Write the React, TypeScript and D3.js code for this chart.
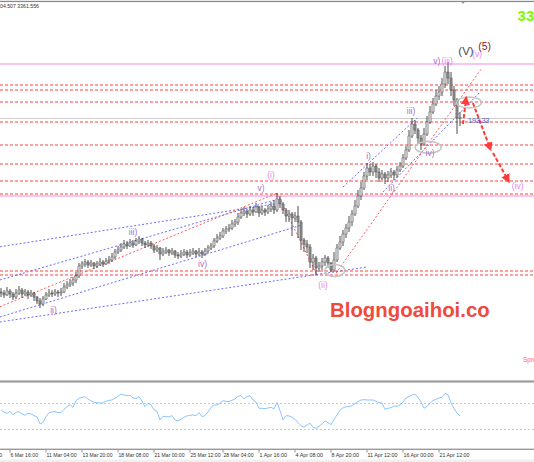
import React from "react";
import * as d3 from "d3";

const W = 534;
const H = 462;

// ---- data (XAUUSD H4-style bars, indexed by bar) ----
const firstOpen = 2920;
const closes = [
  2917.5, 2912.5, 2922.5, 2915, 2907.5, 2917.5, 2925, 2915, 2920, 2912.5,
  2917.5, 2907.5, 2897.5, 2890, 2902.5, 2912.5, 2917.5, 2915, 2920, 2917.5,
  2920, 2932.5, 2937.5, 2942.5, 2950, 2960, 2985, 2990, 2995, 2987.5,
  2992.5, 2985, 2990, 2995, 2990, 2997.5, 3000, 3007.5, 3020, 3025,
  3032.5, 3040, 3035, 3042.5, 3037.5, 3047.5, 3052.5, 3042.5, 3037.5, 3042.5,
  3035, 3025, 3030, 3015, 3020, 3025, 3017.5, 3022.5, 3012.5, 3010,
  3015, 3020, 3012.5, 3017.5, 3022.5, 3015, 3020, 3015, 3022.5, 3030,
  3035, 3047.5, 3055, 3060, 3072.5, 3077.5, 3080, 3090, 3095, 3107.5,
  3117.5, 3122.5, 3115, 3125, 3120, 3132.5, 3117.5, 3125, 3120, 3127.5,
  3135, 3125, 3152.5, 3140, 3125, 3110, 3115, 3105, 3110, 3095,
  3050, 3040, 3032.5, 2995, 3005, 2980, 2985, 2995, 3005, 2992.5,
  2975, 3000, 3030, 3045, 3065, 3080, 3095, 3115, 3135, 3160,
  3180, 3210, 3230, 3220, 3235, 3220, 3205, 3215, 3205, 3212.5,
  3220, 3212.5, 3225, 3235, 3255, 3275, 3310, 3340, 3325, 3305,
  3290, 3315, 3345, 3370, 3390, 3410, 3420, 3440, 3470, 3455,
  3425, 3400, 3355, 3356,
];
const highs = [
  2930, 2925, 2932.5, 2927.5, 2920, 2927.5, 2935, 2930, 2927.5, 2925,
  2925, 2920, 2910, 2905, 2910, 2920, 2927.5, 2925, 2927.5, 2925,
  2930, 2942.5, 2947.5, 2952.5, 2957.5, 2970, 2992.5, 2997.5, 3002.5, 3000,
  3000, 2995, 2997.5, 3005, 3000, 3005, 3010, 3017.5, 3027.5, 3035,
  3042.5, 3050, 3047.5, 3052.5, 3050, 3055, 3060, 3055, 3047.5, 3050,
  3047.5, 3040, 3037.5, 3032.5, 3030, 3032.5, 3027.5, 3030, 3025, 3020,
  3025, 3027.5, 3025, 3027.5, 3030, 3025, 3030, 3025, 3030, 3037.5,
  3042.5, 3055, 3065, 3070, 3080, 3085, 3090, 3100, 3102.5, 3117.5,
  3127.5, 3132.5, 3127.5, 3135, 3132.5, 3142.5, 3135, 3135, 3130, 3137.5,
  3145, 3150, 3167.5, 3160, 3145, 3130, 3125, 3120, 3120, 3135,
  3100, 3055, 3050, 3040, 3015, 3010, 2995, 3005, 3012.5, 3010,
  2995, 3020, 3040, 3060, 3075, 3090, 3110, 3125, 3150, 3175,
  3195, 3220, 3242.5, 3240, 3245, 3240, 3230, 3225, 3220, 3222.5,
  3230, 3225, 3235, 3245, 3265, 3285, 3325, 3355, 3350, 3330,
  3312.5, 3330, 3360, 3385, 3405, 3425, 3435, 3455, 3485, 3495,
  3470, 3435, 3405, 3370,
];
const lows = [
  2907.5, 2905, 2910, 2905, 2900, 2902.5, 2912.5, 2905, 2910, 2902.5,
  2907.5, 2897.5, 2890, 2880, 2885, 2900, 2907.5, 2907.5, 2910, 2907.5,
  2910, 2917.5, 2927.5, 2932.5, 2935, 2942.5, 2955, 2977.5, 2982.5, 2980,
  2982.5, 2977.5, 2980, 2985, 2982.5, 2987.5, 2990, 2995, 3002.5, 3015,
  3020, 3027.5, 3027.5, 3032.5, 3030, 3035, 3040, 3035, 3030, 3032.5,
  3027.5, 3017.5, 3020, 3000, 3010, 3015, 3010, 3012.5, 3005, 3002.5,
  3005, 3010, 3005, 3007.5, 3012.5, 3007.5, 3010, 3005, 3010, 3017.5,
  3025, 3030, 3042.5, 3050, 3055, 3065, 3070, 3075, 3082.5, 3087.5,
  3102.5, 3110, 3105, 3110, 3110, 3117.5, 3107.5, 3112.5, 3110, 3115,
  3120, 3115, 3120, 3130, 3115, 3095, 3095, 3060, 3095, 3055,
  3025, 3020, 3017.5, 2980, 2975, 2962.5, 2970, 2975, 2985, 2980,
  2970, 2970, 2995, 3025, 3035, 3055, 3070, 3085, 3110, 3130,
  3150, 3175, 3200, 3210, 3210, 3205, 3195, 3200, 3190, 3195,
  3205, 3200, 3205, 3220, 3230, 3250, 3270, 3305, 3315, 3290,
  3275, 3285, 3310, 3340, 3365, 3385, 3400, 3410, 3430, 3440,
  3410, 3385, 3315, 3335,
];
const rsi = [
  59, 56, 54, 56.5, 52, 55.5, 56.5, 53, 51, 54,
  53, 50.5, 48.5, 38, 40, 49, 55, 56, 56.5, 55,
  55, 60, 64, 67, 63, 73, 76.5, 78, 79, 75.5,
  72.5, 70.5, 70, 69.5, 69.5, 72, 73.5, 74, 76.5, 79.5,
  83, 81.5, 80.5, 81, 77, 76, 79, 72.5, 64, 69,
  67, 59, 57, 44, 49.5, 49, 48.5, 50.5, 44, 42.5,
  45, 48, 50, 51, 51.5, 50.5, 55, 49, 50.5, 56,
  62.5, 66.5, 66.5, 69, 73, 72, 71.5, 73.5, 75.5, 79.5,
  80.5, 75.5, 79, 80.5, 74, 71, 61.5, 61.5, 61, 62,
  63, 60.5, 70, 58, 44, 50.5, 50, 48, 45, 40,
  35, 33, 36.5, 39, 33, 31.5, 34.5, 38, 42.5, 40,
  37, 45, 51.5, 59, 62, 64, 64, 65.5, 68.5, 71.5,
  74, 74.5, 74, 74, 74, 72, 70, 69.5, 60, 61.5,
  62.5, 65, 64.5, 66.5, 71, 77, 79, 81.5, 83, 78,
  71, 61.5, 64.5, 69, 73, 75, 77, 78, 84, 82,
  70, 61, 54, 50,
];
const rsiLevels = [70, 30];

const timeLabels = [
  "4 Mar 16:00", "6 Mar 16:00", "11 Mar 04:00", "13 Mar 20:00", "18 Mar 08:00",
  "21 Mar 00:00", "25 Mar 12:00", "28 Mar 04:00", "1 Apr 16:00", "4 Apr 08:00",
  "8 Apr 20:00", "11 Apr 12:00", "16 Apr 00:00", "21 Apr 12:00",
];
const timeLabelBars = [-9, 3, 15, 27, 39, 51, 63, 74, 86, 98, 110, 122, 134, 146];

const redLevels = [3437.5, 3424, 3394, 3344, 3287.5, 3241, 3197.5, 3166, 2972.5, 2962.5];
const pinkLevels = [3489, 3160.5];

type P = [number, number];
const blueLines: [P, P][] = [
  [[-0.4, 3033], [93, 3142.5]],
  [[-0.4, 2950], [91.3, 3150]],
  [[-0.4, 2857.5], [100.3, 3087.5]],
  [[-0.4, 2845], [122, 2982.5]],
  [[114, 3182.5], [138.7, 3355]],
  [[127.3, 3170], [159.7, 3420]],
];
const redLines: [P, P][] = [
  [[-0.4, 2883], [92, 3167]],
  [[92, 3167.5], [105.3, 2962.5]],
  [[111.7, 2967.5], [160.3, 3480]],
];
const ellipses: { c: P; rx: number; ry: number }[] = [
  { c: [111.3, 2973.75], rx: 10, ry: 6 },
  { c: [142.4, 3281.75], rx: 13, ry: 6 },
  { c: [156, 3393.75], rx: 12.5, ry: 5.5 },
];
const arrows: [P, P][] = [
  [[154, 3340], [155, 3402]],
  [[157.3, 3392.5], [163, 3280]],
  [[164, 3267.5], [169, 3200]],
];

const VIOLET = "#ee82ee";
const PURPLE = "#a86ec8";
const waveLabels: { t: string; at: P; color: string; size: number }[] = [
  { t: "(i)", at: [90, 3212.5], color: VIOLET, size: 8.5 },
  { t: "v)", at: [86.7, 3180], color: PURPLE, size: 8.5 },
  { t: "iii)", at: [44, 3071], color: PURPLE, size: 8.5 },
  { t: "iv)", at: [67.2, 2991], color: PURPLE, size: 8.5 },
  { t: "ii)", at: [17.5, 2875], color: PURPLE, size: 8.5 },
  { t: "(4)", at: [-4, 2812.5], color: "#8b1a1a", size: 10 },
  { t: "(ii)", at: [107.3, 2937.5], color: VIOLET, size: 8.5 },
  { t: "i)", at: [122.5, 3258.75], color: PURPLE, size: 8.5 },
  { t: "ii)", at: [130.2, 3180], color: PURPLE, size: 8.5 },
  { t: "iii)", at: [136.7, 3371.25], color: PURPLE, size: 8.5 },
  { t: "iv)", at: [143, 3267.5], color: PURPLE, size: 8.5 },
  { t: "v)", at: [145.3, 3497.5], color: PURPLE, size: 8.5 },
  { t: "(iii)", at: [148.7, 3497.5], color: VIOLET, size: 8.5 },
  { t: "(V)", at: [155, 3522.5], color: "#4a4a4a", size: 11.5 },
  { t: "(v)", at: [158.7, 3515], color: VIOLET, size: 8.5 },
  { t: "(5)", at: [161.2, 3534], color: "#8b1a1a", size: 10.5 },
  { t: "(iv)", at: [172.2, 3185], color: VIOLET, size: 8.5 },
];

const snap = (v: number) => Math.round(v) + 0.5;

export default function App() {
  const x = d3.scaleLinear().domain([0, 1]).range([1, 4]);
  const y = d3.scaleLinear().domain([2700, 3650]).range([380, 0]);
  const yr = d3.scaleLinear().domain([0, 100]).range([449.2, 382.7]);

  const bars = closes.map((c, i) => {
    const o = i === 0 ? firstOpen : closes[i - 1];
    return { i, o, c, h: Math.max(highs[i], o, c), l: Math.min(lows[i], o, c) };
  });
  const rsiPath = d3
    .line<number>()
    .x((_, i) => x(i))
    .y((d) => yr(d))(rsi) as string;
  const lastClose = closes[closes.length - 1];
  const font = "'Liberation Sans', Arial, sans-serif";

  return (
    <svg
      width={W}
      height={H}
      style={{ position: "fixed", left: 0, top: 0, background: "#fff" }}
      fontFamily={font}
    >
      <defs>
        <clipPath id="main">
          <rect x={0} y={2} width={W} height={378} />
        </clipPath>
        <clipPath id="sub">
          <rect x={0} y={383} width={W} height={66} />
        </clipPath>
        <marker id="ah" viewBox="0 0 10 10" refX="6" refY="5" markerWidth="4.5" markerHeight="4.5" orient="auto">
          <path d="M0,0 L10,5 L0,10 z" fill="#ff3b3b" />
        </marker>
      </defs>
      <rect width={W} height={H} fill="#fff" />

      <g clipPath="url(#main)">
        {pinkLevels.map((p, k) => (
          <line key={"pk" + k} x1={0} x2={W} y1={Math.round(y(p))} y2={Math.round(y(p))} stroke="#f5c6f5" strokeWidth={2} />
        ))}
        {redLevels.map((p, k) => (
          <line key={"rl" + k} x1={0} x2={W} y1={Math.round(y(p))} y2={Math.round(y(p))} stroke="#ff4040" strokeWidth={1} strokeDasharray="3 2" />
        ))}
        <line x1={0} x2={W} y1={snap(y(lastClose))} y2={snap(y(lastClose))} stroke="#cfcfcf" strokeWidth={1} />

        {blueLines.map(([a, b], k) => (
          <line key={"bl" + k} x1={x(a[0])} y1={y(a[1])} x2={x(b[0])} y2={y(b[1])} stroke="#6b6bff" strokeWidth={1} strokeDasharray="2 2" />
        ))}
        {redLines.map(([a, b], k) => (
          <line key={"rd" + k} x1={x(a[0])} y1={y(a[1])} x2={x(b[0])} y2={y(b[1])} stroke="#ff5a5a" strokeWidth={1} strokeDasharray="2 2" />
        ))}

        {bars.map((b) => {
          const cx = x(b.i);
          const top = y(Math.max(b.o, b.c));
          const bot = y(Math.min(b.o, b.c));
          return (
            <g key={b.i}>
              <line x1={cx} x2={cx} y1={y(b.h)} y2={y(b.l)} stroke="#3a3a3a" strokeWidth={0.9} />
              <rect
                x={cx - 1.1}
                y={top}
                width={2.2}
                height={Math.max(0.8, bot - top)}
                fill={b.c >= b.o ? "#d0d0d0" : "#8a8a8a"}
                stroke="#3a3a3a"
                strokeWidth={0.4}
              />
            </g>
          );
        })}

        {ellipses.map((e, k) => (
          <ellipse key={"el" + k} cx={x(e.c[0])} cy={y(e.c[1])} rx={e.rx} ry={e.ry} fill="none" stroke="#c4c4c4" strokeWidth={1.5} />
        ))}

        {arrows.map(([a, b], k) => (
          <line
            key={"ar" + k}
            x1={x(a[0])}
            y1={y(a[1])}
            x2={x(b[0])}
            y2={y(b[1])}
            stroke="#ff3b3b"
            strokeWidth={2}
            strokeDasharray="4 2"
            markerEnd="url(#ah)"
          />
        ))}

        {waveLabels.map((l, k) => (
          <text
            key={"wl" + k}
            x={x(l.at[0])}
            y={y(l.at[1])}
            dy="0.35em"
            textAnchor="middle"
            fontSize={l.size}
            fill={l.color}
          >
            {l.t}
          </text>
        ))}

        <text x={x(155.7)} y={y(3348.75)} dy="0.35em" fontSize={7} fill="#4a58b0">
          193.33
        </text>

        <text
          x={330}
          y={317}
          fontSize={20.4}
          fontWeight="bold"
          fill="#ef4a3c"
          stroke="#fff"
          strokeWidth={3}
          paintOrder="stroke"
        >
          Blogngoaihoi.co
        </text>
        <text x={523} y={362} fontSize={6.5} fill="#ff6b6b">
          Spread
        </text>
        <text x={517.6} y={21} fontSize={15} fontWeight="bold" fill="#7cfc00">
          3361
        </text>
        <polygon points={`${x(154) - 2.5},1 ${x(154) + 2.5},1 ${x(154)},4`} fill="#9a9a9a" />
      </g>

      {/* header */}
      <rect x={0} y={0.8} width={W} height={1.3} fill="#8a8a8a" />
      <text x={0} y={8} fontSize={6} fill="#333" textLength={39} lengthAdjust="spacingAndGlyphs">
        04.507 3361.556
      </text>

      {/* panel separator */}
      <rect x={0} y={380.5} width={W} height={1.4} fill="#8c8c8c" />
      <rect x={0} y={381.9} width={W} height={1.1} fill="#c4c4c4" />

      {/* RSI sub-window */}
      <g clipPath="url(#sub)">
        {rsiLevels.map((v) => (
          <line key={"rv" + v} x1={0} x2={W} y1={snap(yr(v))} y2={snap(yr(v))} stroke="#c8c8c8" strokeWidth={1} strokeDasharray="2 2" />
        ))}
        <path d={rsiPath} fill="none" stroke="#8cc6ff" strokeWidth={1} />
      </g>

      {/* time axis */}
      <rect x={0} y={448.6} width={W} height={1.4} fill="#999" />
      <rect x={0} y={459.5} width={W} height={2.5} fill="#f0f0f0" />
      {timeLabelBars.map((b, k) => (
        <g key={"tl" + k}>
          <line x1={x(b)} x2={x(b)} y1={450} y2={452.5} stroke="#777" strokeWidth={0.8} />
          <text
            x={x(b) + 0.5}
            y={456.6}
            fontSize={5.6}
            fill="#333"
            textLength={timeLabels[k].length * 2.5}
            lengthAdjust="spacingAndGlyphs"
          >
            {timeLabels[k]}
          </text>
        </g>
      ))}
    </svg>
  );
}
